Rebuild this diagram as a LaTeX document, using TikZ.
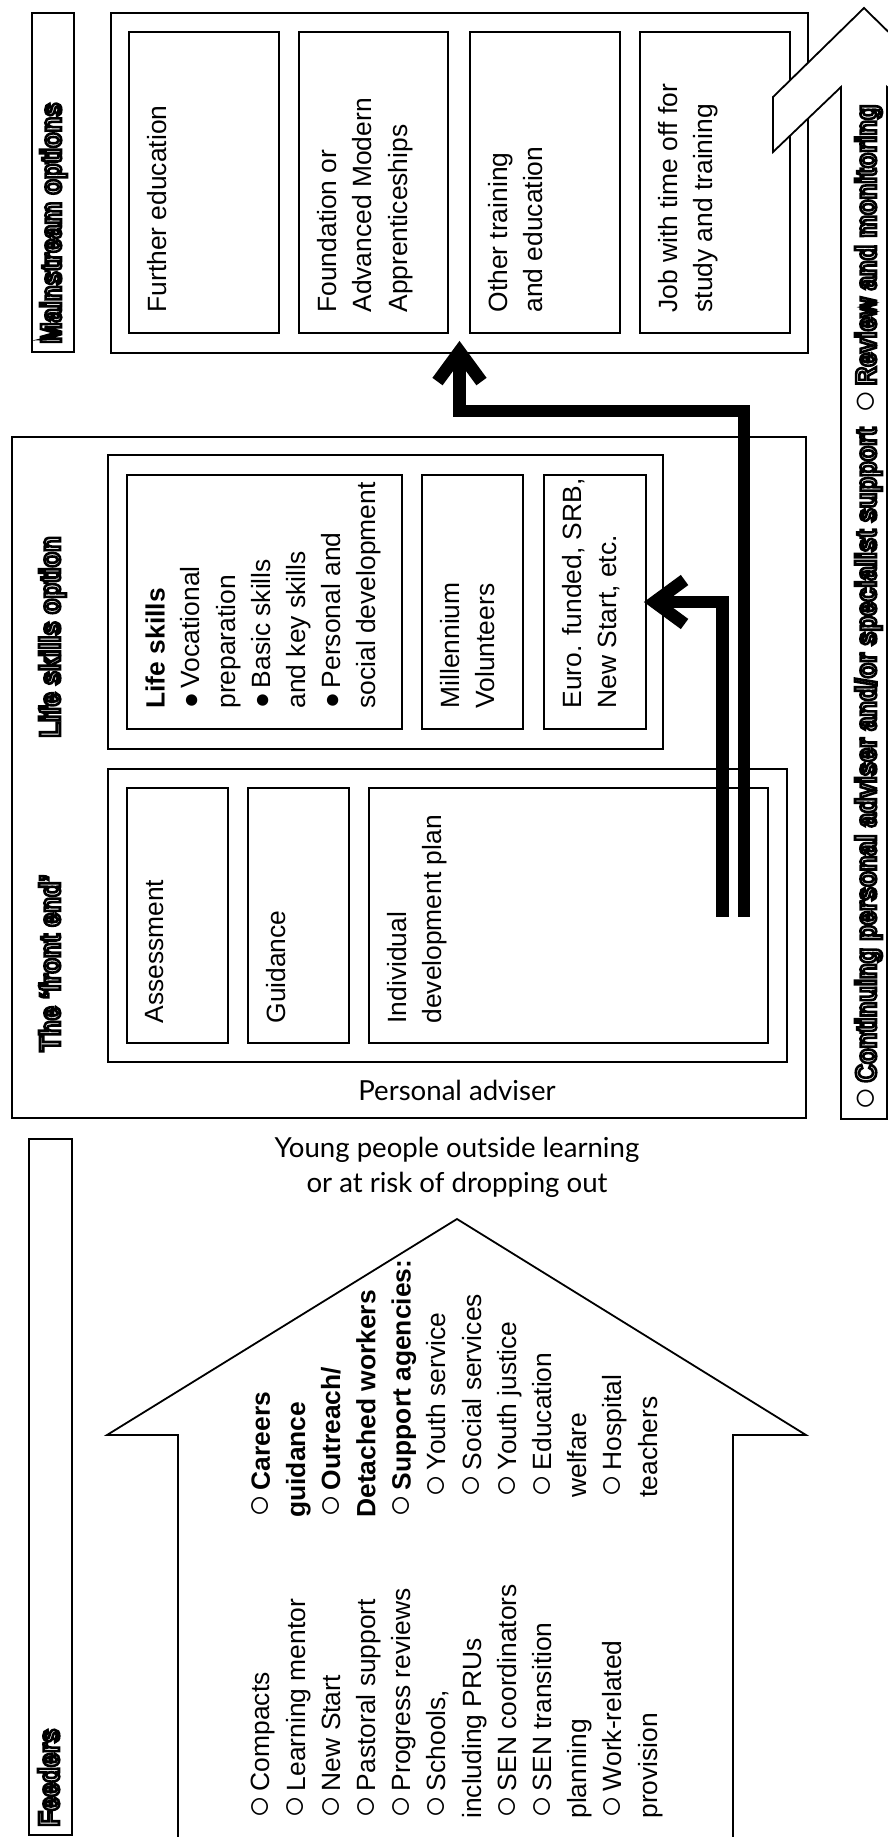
\documentclass[tikz,border=0pt]{standalone}
\usepackage{fontspec}
\setmainfont{Liberation Sans}
\newfontfamily\humfont{Lato}
\newfontfamily\titlefont[FakeStretch=0.88]{Liberation Sans Bold}
\usetikzlibrary{arrows.meta,fit,calc}
\newcommand{\outlinetext}[1]{\special{pdf:literal direct 2 Tr 1.3 w 0 G 1 g}#1\special{pdf:literal direct 0 Tr 0 g 0 G}}
\newcommand{\wc}{\raisebox{-0.07em}{\scalebox{1.45}{○}}\,}
\newcommand{\bc}{●\,}
\tikzset{
  box/.style={draw, line width=0.9pt, inner sep=0pt},
  btext/.style={rotate=90, anchor=north west, inner sep=0pt, align=left,
    font=\fontsize{13.2}{17.6}\selectfont},
  ttitle/.style={rotate=90, anchor=base west, inner sep=0pt,
    font=\titlefont\fontsize{14.5}{17}\selectfont},
  humtext/.style={inner sep=0pt, align=center, font=\humfont\fontsize{13.8}{17.5}\selectfont},
  bigarrow/.style={line width=6.3pt, line join=miter,
    -{Straight Barb[length=15pt,width=22pt]}}
}
\begin{document}
\begin{tikzpicture}[x=0.5pt,y=-0.5pt]
\useasboundingbox (0,0) rectangle (888,1837);
\clip (0,0) rectangle (888,1837);

% ---------- Mainstream options ----------
\node[box, fit={(32,13) (74,352)}] (mainlbl) {};
\node[ttitle] (tmain) at (61,344) {\outlinetext{Mainstream options}};
\node[box, fit={(111,13) (808,353)}] (mainout) {};
\node[box, fit={(129,32) (279,333)}] (fe) {};
\node[box, fit={(299,32) (448,333)}] (found) {};
\node[box, fit={(470,32) (620,333)}] (other) {};
\node[box, fit={(640,32) (790,333)}] (job) {};
\node[btext] (tfe) at ([xshift=9.5pt,yshift=10.5pt]fe.south west) {Further education};
\node[btext] (tfound) at ([xshift=9.5pt,yshift=10.5pt]found.south west) {Foundation or\\Advanced Modern\\Apprenticeships};
\node[btext] (tother) at ([xshift=9.5pt,yshift=10.5pt]other.south west) {Other training\\and education};
\node[btext] (tjob) at ([xshift=9.5pt,yshift=10.5pt]job.south west) {Job with time off for\\study and training};

% ---------- Front end + life skills ----------
\node[box, fit={(12,437) (806,1118)}] (big) {};
\node[ttitle] (tlife) at (60,738) {\outlinetext{Life skills option}};
\node[ttitle] (tfront) at (60,1052) {\outlinetext{The ‘front end’}};
\node[box, fit={(108,455) (663,749)}] (lifeout) {};
\node[box, fit={(127,475) (402,729)}] (life) {};
\node[box, fit={(422,475) (523,729)}] (mill) {};
\node[box, fit={(544,475) (646,729)}] (euro) {};
\node[btext] (tlifeb) at ([xshift=9.5pt,yshift=10.5pt]life.south west)
  {\textbf{Life skills}\\\bc Vocational\\preparation\\\bc Basic skills\\and key skills\\\bc Personal and\\social development};
\node[btext] (tmill) at ([xshift=9.5pt,yshift=10.5pt]mill.south west) {Millennium\\Volunteers};
\node[btext] (teuro) at ([xshift=9.5pt,yshift=10.5pt]euro.south west) {Euro. funded, SRB,\\New Start, etc.};
\node[box, fit={(108,769) (787,1062)}] (front) {};
\node[box, fit={(127,788) (228,1043)}] (assess) {};
\node[box, fit={(248,788) (349,1043)}] (guid) {};
\node[box, fit={(369,788) (768,1043)}] (idp) {};
\node[btext] (tassess) at ([xshift=9.5pt,yshift=10pt]assess.south west) {Assessment};
\node[btext] (tguid) at ([xshift=9.5pt,yshift=10pt]guid.south west) {Guidance};
\node[btext] (tidp) at ([xshift=9.5pt,yshift=10pt]idp.south west) {Individual\\development plan};
\node[humtext] (pa) at (457,1090) {Personal adviser};

% ---------- Continuing arrow ----------
\draw[line width=0.9pt, fill=white, line join=miter]
  (841,1119) -- (841,87) -- (773,152) -- (773,97) -- (864,8) -- (955,97)
  -- (955,152) -- (887,87) -- (887,1119) -- cycle;
\node[ttitle] (tcont) at (876,1111)
  {{\normalfont\fontsize{13.5}{15}\selectfont\wc}\outlinetext{Continuing personal adviser and/or specialist support}\hspace{7pt}{\normalfont\fontsize{13.5}{15}\selectfont\wc}\outlinetext{Review and monitoring}};

% ---------- Black arrows ----------
\coordinate (s1) at ([xshift=-23.25pt,yshift=63.5pt]idp.south east);
\coordinate (s2) at ([xshift=-12.5pt,yshift=63.5pt]idp.south east);
\coordinate (bend) at ([yshift=12.5pt]big.north);
\draw[bigarrow, shorten >=-1.5pt] (s1) |- (euro.east);
\draw[bigarrow, shorten >=-6.5pt] (s2) -- (s2 |- bend) -| (mainout.south);

% ---------- Feeders ----------
\node[humtext] (yp) at (457,1167) {Young people outside learning\\or at risk of dropping out};
\node[box, fit={(29,1139) (72,1835)}] (feedlbl) {};
\node[ttitle] (tfeed) at (59,1827) {\outlinetext{Feeders}};
\draw[line width=0.9pt, line join=miter]
  (178,1850) -- (178,1435) -- (107,1435) -- (457,1219) -- (806,1435)
  -- (733,1435) -- (733,1850);
\node[btext] (fcol1) at (251,1819)
  {\wc Compacts\\\wc Learning mentor\\\wc New Start\\\wc Pastoral support\\\wc Progress reviews\\\wc Schools,\\including PRUs\\\wc SEN coordinators\\\wc SEN transition\\planning\\\wc Work-related\\provision};
\node[btext] (fcol2) at (251,1518)
  {\wc\textbf{Careers}\\\textbf{guidance}\\\wc\textbf{Outreach/}\\\textbf{Detached workers}\\\wc\textbf{Support agencies:}\\
   \hspace*{10pt}\wc Youth service\\\hspace*{10pt}\wc Social services\\\hspace*{10pt}\wc Youth justice\\\hspace*{10pt}\wc Education\\\hspace*{10pt}welfare\\\hspace*{10pt}\wc Hospital\\\hspace*{10pt}teachers};
\end{tikzpicture}
\end{document}
